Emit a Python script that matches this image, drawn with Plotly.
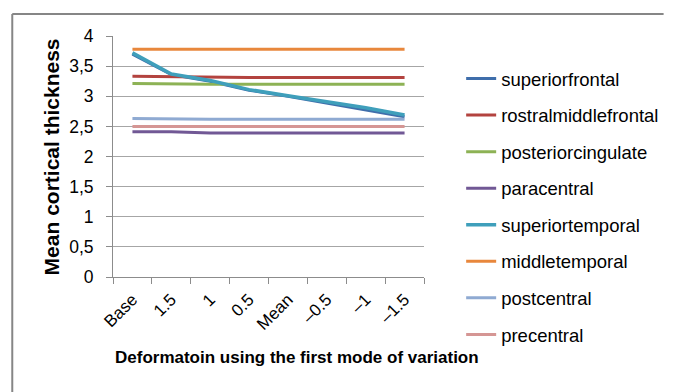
import plotly.graph_objects as go

# Deformation steps along the first mode of variation
steps = ["Base", "1.5", "1", "0.5", "Mean", "\u20130.5", "\u20131", "\u20131.5"]

superiorfrontal = [3.70, 3.36, 3.25, 3.10, 3.00, 2.89, 2.78, 2.66]
rostralmiddlefrontal = [3.33, 3.32, 3.31, 3.31, 3.31, 3.31, 3.31, 3.31]
posteriorcingulate = [3.21, 3.20, 3.20, 3.20, 3.20, 3.20, 3.20, 3.20]
paracentral = [2.41, 2.41, 2.39, 2.39, 2.39, 2.39, 2.39, 2.39]
superiortemporal = [3.72, 3.37, 3.26, 3.11, 3.01, 2.91, 2.81, 2.69]
middletemporal = [3.78, 3.78, 3.78, 3.78, 3.78, 3.78, 3.78, 3.78]
postcentral = [2.63, 2.62, 2.62, 2.62, 2.62, 2.62, 2.62, 2.62]
precentral = [2.50, 2.50, 2.50, 2.50, 2.50, 2.50, 2.50, 2.50]

series = [
    ("superiorfrontal", superiorfrontal, "#3F6EAB"),
    ("rostralmiddlefrontal", rostralmiddlefrontal, "#B3433F"),
    ("posteriorcingulate", posteriorcingulate, "#8DB255"),
    ("paracentral", paracentral, "#715895"),
    ("superiortemporal", superiortemporal, "#3F9FBB"),
    ("middletemporal", middletemporal, "#E8873C"),
    ("postcentral", postcentral, "#8FAAD2"),
    ("precentral", precentral, "#D59694"),
]

y_ticks = [0, 0.5, 1, 1.5, 2, 2.5, 3, 3.5, 4]
y_tick_text = ["0", "0,5", "1", "1,5", "2", "2,5", "3", "3,5", "4"]

FONT = "Liberation Sans"

fig = go.Figure()
for name, vals, color in series:
    fig.add_trace(go.Scatter(
        x=steps, y=vals, name=name, mode="lines",
        line=dict(color=color, width=3.5 if name == "superiortemporal" else 3),
        legendgroup=name,
    ))

W, H = 676, 392
L, R, T, B = 113, 245, 36, 115
pw, ph = W - L - R, H - T - B

def px(x):
    return (x - L) / pw

def py(y):
    return (H - B - y) / ph

fig.update_layout(
    width=W, height=H,
    margin=dict(l=L, r=R, t=T, b=B),
    paper_bgcolor="white", plot_bgcolor="white",
    font=dict(family=FONT, color="#000000", size=13),
    showlegend=True,
    legend=dict(
        x=px(469), y=py(60), xanchor="left", yanchor="top",
        font=dict(family=FONT, size=18.5, color="#000000"),
        tracegroupgap=9.5, traceorder="grouped",
        bgcolor="rgba(0,0,0,0)", maxheight=380,
    ),
    xaxis=dict(
        type="category", range=[-0.5, 7.5],
        showgrid=False, showline=True, linecolor="#8C8C8C", linewidth=1,
        ticks="outside", tickson="boundaries", ticklen=6, tickcolor="#8C8C8C",
        ticklabelstandoff=5,
        tickangle=-45, tickfont=dict(family=FONT, size=17, color="#000000"),
    ),
    yaxis=dict(
        range=[0, 4], tickvals=y_ticks, ticktext=y_tick_text,
        showgrid=True, gridcolor="#A6A6A6", gridwidth=1,
        showline=True, linecolor="#8C8C8C", linewidth=1,
        ticks="outside", ticklen=6, tickcolor="#8C8C8C",
        ticklabelstandoff=9,
        tickfont=dict(family=FONT, size=17.5, color="#000000"),
        zeroline=False,
    ),
    annotations=[
        dict(text="<b>Mean cortical thickness</b>", textangle=-90,
             x=px(50), y=py(157), xref="paper", yref="paper",
             xanchor="center", yanchor="middle",
             showarrow=False, font=dict(family=FONT, size=21, color="#000000")),
        dict(text="<b>Deformatoin using the first mode of variation</b>",
             x=px(301), y=py(357), xref="paper", yref="paper",
             xanchor="center", yanchor="middle",
             showarrow=False, font=dict(family=FONT, size=17, color="#000000")),
    ],
    shapes=[
        dict(type="line", xref="paper", yref="paper",
             x0=px(10), y0=py(14), x1=px(676), y1=py(14),
             line=dict(color="#868686", width=2)),
        dict(type="line", xref="paper", yref="paper",
             x0=px(10), y0=py(14), x1=px(10), y1=py(392),
             line=dict(color="#868686", width=2)),
    ],
)

fig.write_html(
    "out.html",
    config={"displayModeBar": False},
    post_script="document.documentElement.style.overflow='hidden';"
                "document.body.style.overflow='hidden';"
                "document.body.style.margin='0';",
)
